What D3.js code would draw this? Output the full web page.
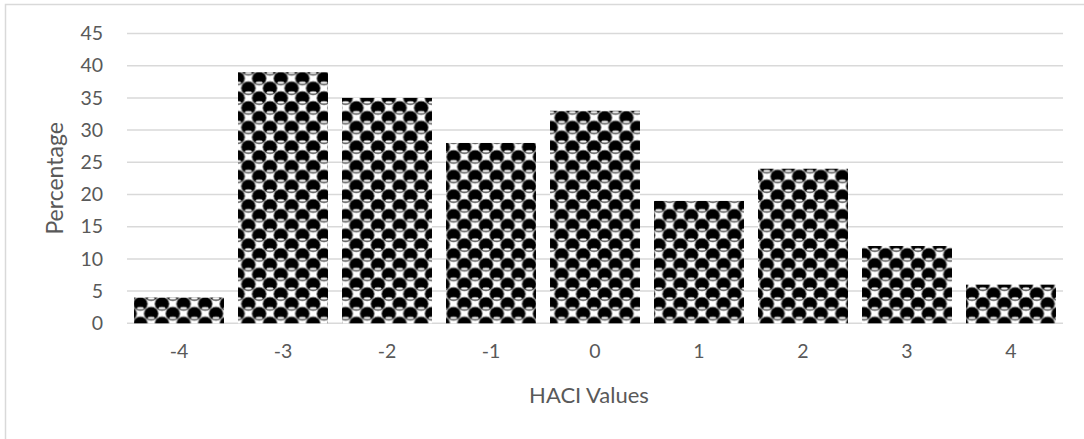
<!DOCTYPE html>
<html>
<head>
<meta charset="utf-8">
<script src="https://cdn.jsdelivr.net/npm/d3@7"></script>
<style>
  html, body { margin: 0; padding: 0; background: #fff; }
  svg { display: block; }
  text { font-family: Lato, "Open Sans", sans-serif; fill: #595959; }
</style>
</head>
<body>
<svg id="chart" width="1084" height="439"></svg>
<script>
// HACI value categories and the percentage for each
const categories = ["-4", "-3", "-2", "-1", "0", "1", "2", "3", "4"];
const percentages = [4, 39, 35, 28, 33, 19, 24, 12, 6];
const yTicks = [0, 5, 10, 15, 20, 25, 30, 35, 40, 45];

const svg = d3.select("#chart");
const W = 1084, H = 439;
const plot = { left: 127, right: 1063, top: 33.5, bottom: 323.3 };

// Chart frame
svg.append("rect")
  .attr("x", 5.5).attr("y", 4.5)
  .attr("width", W + 10).attr("height", H + 10)
  .attr("fill", "none").attr("stroke", "#d9d9d9").attr("stroke-width", 1.5);

// Sphere fill pattern: staggered black balls with a light rim highlight
const defs = svg.append("defs");
const PW = 21.6, PH = 19.6;
const pat = defs.append("pattern")
  .attr("id", "sphere")
  .attr("patternUnits", "userSpaceOnUse")
  .attr("width", PW).attr("height", PH);
pat.append("rect").attr("width", PW).attr("height", PH).attr("fill", "#fff");
const centers = [[0, 0], [PW, 0], [0, PH], [PW, PH], [PW / 2, PH / 2]];
centers.forEach(([cx, cy]) => {
  pat.append("ellipse")
    .attr("cx", cx).attr("cy", cy).attr("rx", 7.1).attr("ry", 6.7)
    .attr("fill", "#000").attr("stroke", "#666").attr("stroke-width", 0.8);
  pat.append("ellipse")
    .attr("cx", cx).attr("cy", cy + 4.4).attr("rx", 3.4).attr("ry", 1.2)
    .attr("fill", "#fff").attr("stroke", "#888").attr("stroke-width", 0.6);
});

const x = d3.scaleBand()
  .domain(categories)
  .range([plot.left, plot.right])
  .paddingInner(0.135)
  .paddingOuter(0.0675);

const y = d3.scaleLinear()
  .domain([0, 45])
  .range([plot.bottom, plot.top]);

// Horizontal gridlines
svg.append("g")
  .selectAll("line")
  .data(yTicks)
  .join("line")
  .attr("x1", plot.left).attr("x2", plot.right)
  .attr("y1", d => y(d)).attr("y2", d => y(d))
  .attr("stroke", "#d9d9d9").attr("stroke-width", 1.5);

// Bars
svg.append("g")
  .selectAll("rect")
  .data(percentages)
  .join("rect")
  .attr("x", (d, i) => x(categories[i]))
  .attr("y", d => y(d))
  .attr("width", x.bandwidth())
  .attr("height", d => y(0) - y(d))
  .attr("fill", "url(#sphere)");

// Y axis labels
const yAxis = d3.axisLeft(y).tickValues(yTicks).tickSize(0).tickPadding(0);
const gy = svg.append("g")
  .attr("transform", `translate(${plot.left - 24},0)`)
  .call(yAxis);
gy.select(".domain").remove();
gy.selectAll("text")
  .attr("font-size", 19.5).attr("fill", "#595959")
  .style("font-family", "Lato, 'Open Sans', sans-serif");

// X axis labels
const xAxis = d3.axisBottom(x).tickSize(0).tickPadding(0);
const gx = svg.append("g")
  .attr("transform", `translate(0,${plot.bottom + 21})`)
  .call(xAxis);
gx.select(".domain").remove();
gx.selectAll("text")
  .attr("font-size", 19.5).attr("fill", "#595959")
  .style("font-family", "Lato, 'Open Sans', sans-serif");

// Axis titles
svg.append("text")
  .attr("x", 589)
  .attr("y", 403)
  .attr("text-anchor", "middle")
  .attr("font-size", 22)
  .text("HACI Values");

svg.append("text")
  .attr("transform", `translate(63,${(plot.top + plot.bottom) / 2}) rotate(-90)`)
  .attr("text-anchor", "middle")
  .attr("font-size", 23)
  .text("Percentage");
</script>
</body>
</html>
